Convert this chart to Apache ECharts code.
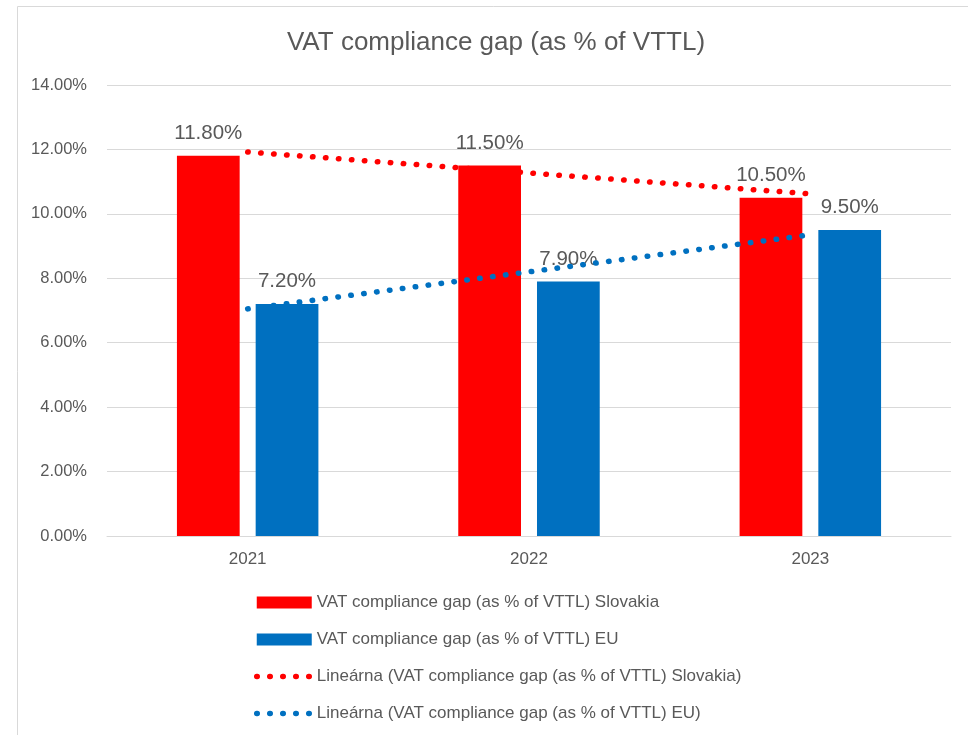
<!DOCTYPE html>
<html lang="en">
<head>
<meta charset="UTF-8" />
<title>VAT compliance gap</title>
<script src="https://cdn.jsdelivr.net/npm/echarts@6/dist/echarts.min.js"></script>
<style>
  html, body { margin: 0; padding: 0; background: #fff; }
  #main { width: 968px; height: 735px; }
</style>
</head>
<body>
<div id="main"></div>
<script type="text/javascript">
// data
var years = ['2021', '2022', '2023'];
var gapSlovakia = [11.8, 11.5, 10.5];
var gapEU = [7.2, 7.9, 9.5];
// linear trend lines (as drawn in the picture)
var trendSlovakia = [11.92, 11.27, 10.62];
var trendEU = [7.05, 8.2, 9.35];

var nameSK = 'VAT compliance gap (as % of VTTL) Slovakia';
var nameEU = 'VAT compliance gap (as % of VTTL) EU';
var nameTrendSK = 'Lineárna (VAT compliance gap (as % of VTTL) Slovakia)';
var nameTrendEU = 'Lineárna (VAT compliance gap (as % of VTTL) EU)';

var fontFam = '"Liberation Sans", Arial, sans-serif';
var textCol = '#595959';

var myChart = echarts.init(document.getElementById('main'));

function pct(v) {
    return Number(v).toFixed(2) + '%';
}

var dotted = [0.5, 12.5];
var noSymbol = { color: 'rgba(0,0,0,0)', borderColor: 'rgba(0,0,0,0)', borderWidth: 0 };

var option = {
    animation: false,
    textStyle: { fontFamily: fontFam },
    graphic: [
        {
            type: 'rect',
            shape: { x: 17.5, y: 6.5, width: 1000, height: 1000 },
            style: { fill: 'none', stroke: '#d9d9d9', lineWidth: 1 },
            silent: true
        },
        {
            type: 'text',
            x: 496,
            y: 43,
            style: {
                text: 'VAT compliance gap (as % of VTTL)',
                font: '26px ' + fontFam,
                fill: textCol,
                textAlign: 'center',
                textVerticalAlign: 'middle'
            }
        }
    ],
    grid: {
        left: 107,
        right: 17,
        top: 85,
        bottom: 199
    },
    legend: {
        orient: 'vertical',
        left: 249,
        top: 589,
        itemWidth: 55,
        itemHeight: 12,
        itemGap: 20,
        textStyle: { color: textCol, fontSize: 17, fontFamily: fontFam },
        data: [
            { name: nameSK, icon: 'rect' },
            { name: nameEU, icon: 'rect' },
            {
                name: nameTrendSK,
                itemStyle: noSymbol,
                lineStyle: { color: '#ff0000', width: 5.5, type: dotted, cap: 'round' }
            },
            {
                name: nameTrendEU,
                itemStyle: noSymbol,
                lineStyle: { color: '#0070c0', width: 5.5, type: dotted, cap: 'round' }
            }
        ]
    },
    xAxis: {
        type: 'category',
        data: years,
        axisTick: { show: false },
        axisLine: { lineStyle: { color: '#d9d9d9', width: 1 } },
        axisLabel: { color: textCol, fontSize: 17, margin: 15 }
    },
    yAxis: {
        type: 'value',
        min: 0,
        max: 14,
        interval: 2,
        axisLine: { show: false },
        axisTick: { show: false },
        splitLine: { lineStyle: { color: '#d9d9d9', width: 1 } },
        axisLabel: {
            color: textCol,
            fontSize: 16.5,
            margin: 20,
            formatter: function (v) { return pct(v); }
        }
    },
    series: [
        {
            name: nameSK,
            type: 'bar',
            data: gapSlovakia,
            barWidth: '22.3%',
            barGap: '25.5%',
            itemStyle: { color: '#ff0000' },
            label: {
                show: true,
                position: 'top',
                distance: 12,
                color: textCol,
                fontSize: 20.5,
                formatter: function (p) { return pct(p.value); }
            },
            z: 2
        },
        {
            name: nameEU,
            type: 'bar',
            data: gapEU,
            barWidth: '22.3%',
            barGap: '25.5%',
            itemStyle: { color: '#0070c0' },
            label: {
                show: true,
                position: 'top',
                distance: 12,
                color: textCol,
                fontSize: 20.5,
                formatter: function (p) { return pct(p.value); }
            },
            z: 2
        },
        {
            name: nameTrendSK,
            type: 'line',
            data: trendSlovakia,
            symbol: 'none',
            itemStyle: { color: '#ff0000' },
            lineStyle: { color: '#ff0000', width: 5.5, type: dotted, cap: 'round' },
            z: 5
        },
        {
            name: nameTrendEU,
            type: 'line',
            data: trendEU,
            symbol: 'none',
            itemStyle: { color: '#0070c0' },
            lineStyle: { color: '#0070c0', width: 5.5, type: dotted, cap: 'round' },
            z: 5
        }
    ]
};

myChart.setOption(option);
</script>
</body>
</html>
